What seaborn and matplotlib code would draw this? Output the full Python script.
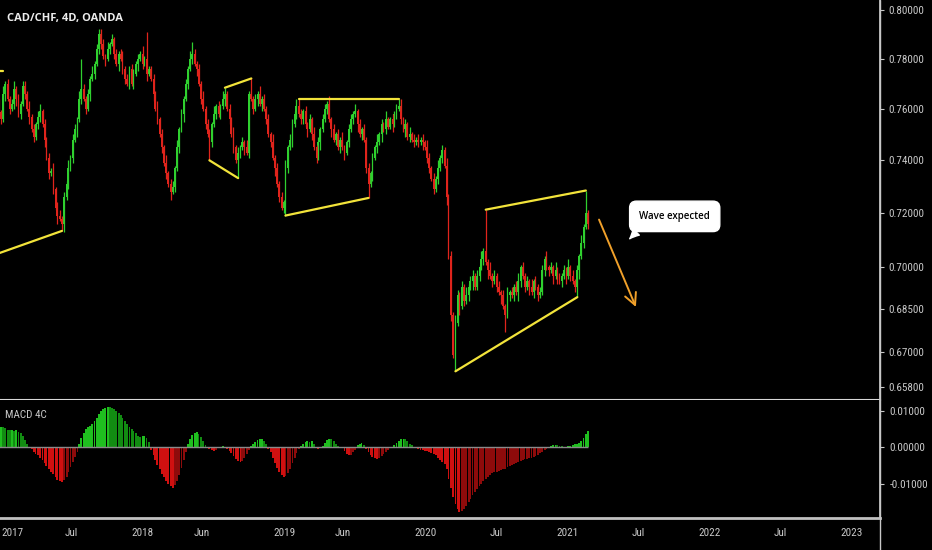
import matplotlib
matplotlib.use("Agg")
import matplotlib.pyplot as plt
import matplotlib.dates as mdates
from matplotlib import ticker, font_manager
from matplotlib.lines import Line2D
import numpy as np
import pandas as pd
import seaborn as sns

# 4D closes (CAD/CHF, OANDA), one per bar
closes = [
    0.7587, 0.7560, 0.7660, 0.7700, 0.7640, 0.7600, 0.7620, 0.7680, 0.7640, 0.7580,
    0.7620, 0.7690, 0.7660, 0.7600, 0.7570, 0.7520, 0.7490, 0.7540, 0.7570, 0.7590,
    0.7540, 0.7480, 0.7410, 0.7350, 0.7360, 0.7290, 0.7220, 0.7190, 0.7180, 0.7160,
    0.7260, 0.7310, 0.7370, 0.7410, 0.7480, 0.7520, 0.7560, 0.7640, 0.7680, 0.7640,
    0.7600, 0.7660, 0.7720, 0.7740, 0.7780, 0.7840, 0.7900, 0.7860, 0.7810, 0.7800,
    0.7840, 0.7860, 0.7880, 0.7820, 0.7780, 0.7820, 0.7800, 0.7760, 0.7720, 0.7700,
    0.7760, 0.7700, 0.7740, 0.7780, 0.7800, 0.7820, 0.7780, 0.7800, 0.7740, 0.7760,
    0.7720, 0.7660, 0.7600, 0.7560, 0.7500, 0.7450, 0.7390, 0.7350, 0.7310, 0.7280,
    0.7300, 0.7370, 0.7450, 0.7520, 0.7580, 0.7640, 0.7700, 0.7760, 0.7800, 0.7820,
    0.7780, 0.7760, 0.7700, 0.7640, 0.7600, 0.7540, 0.7500, 0.7470, 0.7540, 0.7580,
    0.7610, 0.7580, 0.7610, 0.7640, 0.7660, 0.7600, 0.7560, 0.7500, 0.7450, 0.7400,
    0.7430, 0.7450, 0.7470, 0.7450, 0.7430, 0.7660, 0.7640, 0.7600, 0.7640, 0.7660,
    0.7620, 0.7640, 0.7600, 0.7560, 0.7500, 0.7470, 0.7410, 0.7370, 0.7310, 0.7260,
    0.7220, 0.7240, 0.7370, 0.7450, 0.7480, 0.7540, 0.7580, 0.7610, 0.7580, 0.7560,
    0.7590, 0.7540, 0.7520, 0.7560, 0.7500, 0.7450, 0.7410, 0.7470, 0.7520, 0.7560,
    0.7600, 0.7620, 0.7560, 0.7520, 0.7480, 0.7500, 0.7450, 0.7480, 0.7450, 0.7430,
    0.7470, 0.7520, 0.7560, 0.7580, 0.7590, 0.7540, 0.7500, 0.7520, 0.7480, 0.7370,
    0.7310, 0.7350, 0.7410, 0.7450, 0.7470, 0.7500, 0.7540, 0.7520, 0.7560, 0.7530,
    0.7560, 0.7540, 0.7580, 0.7600, 0.7610, 0.7560, 0.7520, 0.7540, 0.7490, 0.7500,
    0.7480, 0.7470, 0.7480, 0.7470, 0.7480, 0.7470, 0.7450, 0.7410, 0.7370, 0.7330,
    0.7290, 0.7330, 0.7370, 0.7410, 0.7440, 0.7380, 0.7260, 0.7040, 0.6830, 0.6690,
    0.6800, 0.6900, 0.6860, 0.6930, 0.6880, 0.6900, 0.6930, 0.6950, 0.6970, 0.6930,
    0.6970, 0.7000, 0.7030, 0.7060, 0.7020, 0.6990, 0.6970, 0.6950, 0.6970, 0.6930,
    0.6910, 0.6900, 0.6860, 0.6830, 0.6900, 0.6910, 0.6900, 0.6930, 0.6910, 0.6950,
    0.7000, 0.6970, 0.6930, 0.6950, 0.6930, 0.6910, 0.6950, 0.6930, 0.6900, 0.6910,
    0.6990, 0.7030, 0.7000, 0.6990, 0.7000, 0.6970, 0.6990, 0.6960, 0.6950, 0.6970,
    0.6990, 0.6970, 0.7000, 0.6970, 0.6950, 0.6930, 0.6990, 0.7040, 0.7090, 0.7150,
    0.7200, 0.7160,
]
first_open = 0.7620

# wick lengths per bar in units of 0.001 (upper / lower)
up_wicks = ("2131212312 1221312123 1212131221 2131221312 1213121221 3121212312 "
            "1221213121 1213121312 2131212131 2121312213 1213212131 2121312121 "
            "3121213121 2131221312 1212131212 2131212131 1221312121 2121312131 "
            "1212131213 1212121321 2131213121 3212131221 2131213121 2121312123 "
            "1212131212 2131213121 2131212131 21")
down_wicks = ("1213121231 2121312122 1312121312 3121213121 2131212213 1212131221 "
              "2121312131 1312121213 1212131212 1312121321 2121312121 1213121213 "
              "1312121312 1212131212 2131212131 1213121213 1212131212 2131213121 "
              "1312121312 1212131221 3121213121 2131212131 1212131212 1312121213 "
              "2121312121 1212131212 1312121312 12")

# long wicks that the trend lines touch
high_marks = {38: 0.7800, 46: 0.7920, 68: 0.7910, 89: 0.7870, 104: 0.7684,
              116: 0.7721, 138: 0.7640, 184: 0.7640, 224: 0.7213, 270: 0.7285}
low_marks = {29: 0.7134, 79: 0.7250, 97: 0.7400, 110: 0.7332, 132: 0.7191,
             170: 0.7257, 200: 0.7270, 210: 0.6633, 233: 0.6770, 266: 0.6893}

# MACD 4C histogram values, one per bar
macd = [
    0.0050, 0.0056, 0.0055, 0.0052, 0.0048, 0.0046, 0.0047, 0.0045, 0.0046, 0.0042,
    0.0038, 0.0030, 0.0020, 0.0010, 0.0002,
    -0.0005, -0.0012, -0.0018, -0.0022, -0.0028, -0.0035, -0.0042, -0.0050, -0.0058,
    -0.0066, -0.0074, -0.0082, -0.0088, -0.0092, -0.0095, -0.0090, -0.0080, -0.0068,
    -0.0054, -0.0040, -0.0026, -0.0012,
    0.0008, 0.0025, 0.0040, 0.0050, 0.0054, 0.0058, 0.0064, 0.0072, 0.0080, 0.0090,
    0.0098, 0.0104, 0.0108, 0.0110, 0.0109, 0.0107, 0.0105, 0.0100, 0.0094, 0.0088,
    0.0080, 0.0072, 0.0064, 0.0056, 0.0050, 0.0044, 0.0038, 0.0032, 0.0028, 0.0030,
    0.0031, 0.0026, 0.0014,
    -0.0008, -0.0020, -0.0034, -0.0048, -0.0060, -0.0072, -0.0082, -0.0092, -0.0100,
    -0.0106, -0.0110, -0.0104, -0.0092, -0.0076, -0.0056, -0.0034, -0.0012,
    0.0008, 0.0022, 0.0034, 0.0040, 0.0041, 0.0036, 0.0028, 0.0018, 0.0006,
    -0.0002, -0.0005, -0.0008, -0.0009, -0.0006, -0.0003, 0.0002, 0.0003, -0.0002,
    -0.0005, -0.0010, -0.0016, -0.0024, -0.0032, -0.0038, -0.0041, -0.0038, -0.0030,
    -0.0018, -0.0006,
    0.0003, 0.0008, 0.0014, 0.0019, 0.0022, 0.0023, 0.0018, 0.0008,
    -0.0004, -0.0014, -0.0028, -0.0042, -0.0056, -0.0068, -0.0076, -0.0080, -0.0078,
    -0.0070, -0.0058, -0.0044, -0.0030, -0.0016, -0.0005,
    0.0004, 0.0010, 0.0015, 0.0016, 0.0015, 0.0016, 0.0010,
    -0.0002, -0.0004, -0.0001,
    0.0004, 0.0012, 0.0019, 0.0023, 0.0022, 0.0016, 0.0008,
    0.0003, -0.0001, -0.0003,
    -0.0010, -0.0018, -0.0022, -0.0020, -0.0014, -0.0006,
    0.0006, 0.0010, 0.0011, 0.0005,
    -0.0004, -0.0012, -0.0020, -0.0026, -0.0030, -0.0032, -0.0029, -0.0024, -0.0018,
    -0.0012, -0.0006,
    -0.0002, 0.0002,
    0.0006, 0.0012, 0.0018, 0.0022, 0.0024, 0.0022, 0.0016, 0.0010, 0.0005, 0.0002,
    -0.0002, -0.0004, -0.0006, -0.0008, -0.0009, -0.0010, -0.0012, -0.0015, -0.0018,
    -0.0022, -0.0028, -0.0034, -0.0040, -0.0046,
    -0.0060, -0.0085, -0.0110, -0.0135, -0.0155, -0.0168, -0.0175,
    -0.0174, -0.0168, -0.0160, -0.0150, -0.0140, -0.0130, -0.0121, -0.0113, -0.0106, -0.0100,
    -0.0092, -0.0086, -0.0080, -0.0075, -0.0071, -0.0068, -0.0066, -0.0064, -0.0063, -0.0060,
    -0.0058, -0.0055, -0.0052, -0.0048, -0.0045, -0.0042, -0.0040, -0.0037, -0.0035, -0.0033,
    -0.0031, -0.0030, -0.0028, -0.0026, -0.0024, -0.0020, -0.0016, -0.0012, -0.0008, -0.0004,
    0.0002, 0.0004, 0.0005, 0.0006, 0.0005, 0.0004, 0.0003, 0.0002, 0.0002, 0.0003,
    0.0004, 0.0006, 0.0008, 0.0010, 0.0013, 0.0018, 0.0026, 0.0036, 0.0045,
]

# yellow trend lines: bar index and price at each end
line_start_bar = [0, 0, 97, 104, 132, 138, 210, 224]
line_end_bar = [2, 29, 110, 116, 170, 184, 266, 270]
line_start_price = [0.7751, 0.7052, 0.7400, 0.7684, 0.7191, 0.7640, 0.6633, 0.7213]
line_end_price = [0.7751, 0.7134, 0.7332, 0.7721, 0.7257, 0.7640, 0.6893, 0.7285]

price_ticks = [0.658, 0.670, 0.685, 0.700, 0.720, 0.740, 0.760, 0.780, 0.800]
macd_ticks = [-0.01, 0.0, 0.01]
date_ticks = ["2017-01-01", "2017-07-01", "2018-01-01", "2018-06-01", "2019-01-01",
              "2019-06-01", "2020-01-01", "2020-07-01", "2021-01-01", "2021-07-01",
              "2022-01-01", "2022-07-01", "2023-01-01"]
date_labels = ["2017", "Jul", "2018", "Jun", "2019", "Jun", "2020", "Jul", "2021",
               "Jul", "2022", "Jul", "2023"]

# style
sns.set_theme(style="dark", rc={"figure.facecolor": "black", "axes.facecolor": "black",
                                "savefig.facecolor": "black"})

# pick a narrow face for the axis labels if one is installed
fonts = font_manager.fontManager.ttflist
names = {f.name for f in fonts}
label_family, label_stretch, label_size = "Roboto", "normal", 7.5
for cand in ["Roboto Condensed", "Liberation Sans Narrow", "Open Sans Condensed",
             "DejaVu Sans Condensed"]:
    if cand in names:
        label_family, label_size = cand, 8
        break
else:
    if any(f.name == "DejaVu Sans" and "condensed" in str(f.stretch) for f in fonts):
        label_family, label_stretch, label_size = "DejaVu Sans", "condensed", 7.5
    elif "Roboto" not in names:
        label_family = "DejaVu Sans"
plt.rcParams["font.family"] = [label_family, "DejaVu Sans"]
plt.rcParams["font.stretch"] = label_stretch

GREEN, RED = "#2fd02f", "#e0241c"
AXIS = "#c8c8c8"

n = len(closes)
c = np.array(closes)
o = np.r_[first_open, c[:-1]]
up = np.array([int(d) for d in up_wicks.replace(" ", "")][:n]) * 0.001
dn = np.array([int(d) for d in down_wicks.replace(" ", "")][:n]) * 0.001
hi = np.maximum(o, c) + up
lo = np.minimum(o, c) - dn
for k, v in high_marks.items():
    hi[k] = v
for k, v in low_marks.items():
    lo[k] = v

dates = pd.date_range("2016-12-27", periods=n, freq="4B")
x = mdates.date2num(dates)
xlim = (mdates.date2num(pd.Timestamp("2016-12-29 10:00")), mdates.date2num(pd.Timestamp("2023-03-16")))

fig = plt.figure(figsize=(9.32, 5.5), dpi=100)
ax = fig.add_axes([0, 150 / 550, 880 / 932, 400 / 550])
ax2 = fig.add_axes([0, 32 / 550, 880 / 932, 118 / 550])

# candles
col = np.where(c >= o, GREEN, RED)
ax.vlines(x, lo, hi, colors=col, lw=0.9)
body = np.maximum(np.abs(c - o), 0.0004)
ax.bar(x, body, bottom=np.minimum(o, c), width=4.6, color=col, linewidth=0)

# trend lines
tl = pd.DataFrame({
    "x": np.r_[x[line_start_bar], x[line_end_bar]],
    "price": np.r_[line_start_price, line_end_price],
    "seg": np.r_[np.arange(len(line_start_bar)), np.arange(len(line_end_bar))],
})
sns.lineplot(data=tl, x="x", y="price", units="seg", estimator=None, color="#f2e33a",
             lw=1.6, ax=ax, legend=False)

ax.set_yscale("log")
ax.set_xlim(xlim)
ax.set_ylim(0.6535, 0.80416)
ax.yaxis.set_major_locator(ticker.FixedLocator(price_ticks))
ax.yaxis.set_major_formatter(ticker.FormatStrFormatter("%.5f"))
ax.yaxis.set_minor_locator(ticker.NullLocator())
ax.yaxis.tick_right()
ax.tick_params(axis="y", colors=AXIS, labelsize=label_size, length=3, width=0.8, pad=3)
ax.tick_params(axis="x", bottom=False, labelbottom=False)
ax.set_xlabel("")
ax.set_ylabel("")
for s in ["left", "top"]:
    ax.spines[s].set_visible(False)
ax.spines["right"].set_color(AXIS)
ax.spines["bottom"].set_color("#d8d8d8")
ax.spines["bottom"].set_linewidth(1.5)

# speech bubble and expected move
ax.annotate("Wave expected",
            xy=(mdates.date2num(pd.Timestamp("2021-06-09")), 0.7105),
            xytext=(mdates.date2num(pd.Timestamp("2021-10-03")), 0.7188),
            ha="center", va="center", fontsize=7, fontweight="semibold", color="black",
            family=["Open Sans", "DejaVu Sans"], fontstretch="normal",
            bbox=dict(boxstyle="round,pad=1.0,rounding_size=0.7", fc="white", ec="white"),
            arrowprops=dict(arrowstyle="wedge,tail_width=0.9,shrink_factor=0.4", fc="white",
                            ec="white", shrinkA=0, shrinkB=0, relpos=(0.12, 0.15)))
ax.annotate("", xy=(mdates.date2num(pd.Timestamp("2021-06-25")), 0.6858),
            xytext=(mdates.date2num(pd.Timestamp("2021-03-22")), 0.7176),
            arrowprops=dict(arrowstyle="->,head_length=0.7,head_width=0.35",
                            color="#f0a02a", lw=1.4, shrinkA=0, shrinkB=0))

# MACD 4C histogram
m = np.array(macd[:n])
prev = np.r_[m[0], m[:-1]]
mcol = np.where(m >= 0, np.where(m >= prev, "#1fbf1f", "#128c12"),
                np.where(m <= prev, "#d01010", "#8e0b0b"))
ax2.bar(x[:len(m)], m, width=4.8, color=mcol, linewidth=0)
ax2.hlines(0, x[0], x[len(m) - 1], color="#8a8a8a", lw=1)
ax2.set_xlim(xlim)
ax2.set_ylim(-0.01926, 0.01289)
ax2.yaxis.set_major_locator(ticker.FixedLocator(macd_ticks))
ax2.yaxis.set_major_formatter(ticker.FormatStrFormatter("%.5f"))
ax2.yaxis.tick_right()
ax2.set_xticks(mdates.date2num(pd.to_datetime(date_ticks)))
ax2.set_xticklabels(date_labels)
# first year label sits at the left edge; keep it inside the picture
ax2.get_xticklabels()[0].set_horizontalalignment("left")
ax2.tick_params(axis="both", colors=AXIS, labelsize=label_size, length=3, width=0.8, pad=4)
for s in ["left", "top"]:
    ax2.spines[s].set_visible(False)
ax2.spines["right"].set_color(AXIS)
ax2.spines["bottom"].set_color("#c0c0c0")
ax2.spines["bottom"].set_linewidth(2)
ax2.text(0.006, 0.87, "MACD 4C", transform=ax2.transAxes, color=AXIS, fontsize=label_size,
         va="center", ha="left")

# price axis line runs down through the date strip
fig.add_artist(Line2D([880 / 932, 880 / 932], [0, 1], transform=fig.transFigure,
                      color=AXIS, lw=1))

fig.text(7 / 932, 1 - 19 / 550, "CAD/CHF, 4D, OANDA", color="#ececec", fontsize=8,
         fontweight="bold", family=["Open Sans", "DejaVu Sans"], fontstretch="normal",
         va="center", ha="left")

fig.savefig("out.png", dpi=100, facecolor="black")
